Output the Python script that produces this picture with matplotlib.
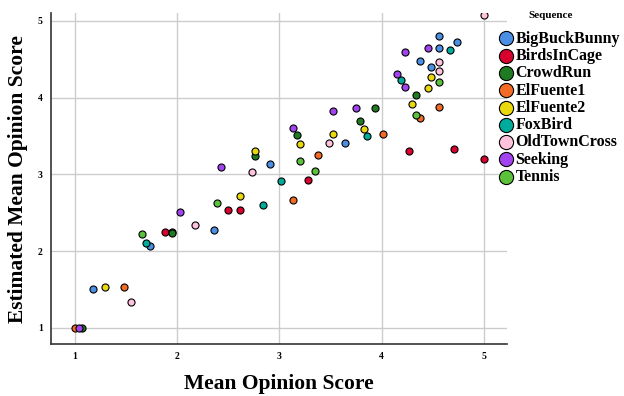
import matplotlib
matplotlib.use("Agg")
import matplotlib.pyplot as plt

plt.rcParams['font.family'] = ['Liberation Serif', 'DejaVu Serif']

sequences = ["BigBuckBunny", "BirdsInCage", "CrowdRun", "ElFuente1", "ElFuente2",
             "FoxBird", "OldTownCross", "Seeking", "Tennis"]
colors = ["#4a8fe3", "#d8002c", "#1f7a21", "#f26a23", "#e8d80c",
          "#00ab9b", "#ffc2dc", "#a343ef", "#5bc13a"]

# mean opinion score (x) and estimated score (y) per sequence
mos = {
    "BigBuckBunny": [4.56, 4.74, 4.56, 4.38, 4.48, 3.64, 2.91, 2.36, 1.74, 1.18],
    "BirdsInCage": [5.0, 4.71, 4.27, 3.28, 2.62, 2.50, 1.88, 1.95],
    "CrowdRun": [3.94, 3.79, 4.34, 3.17, 2.76, 1.95, 1.07],
    "ElFuente1": [4.56, 4.38, 4.01, 3.38, 3.13, 1.48, 1.00],
    "ElFuente2": [4.48, 4.45, 4.30, 3.83, 3.53, 3.20, 2.76, 2.62, 1.30],
    "FoxBird": [4.67, 4.19, 3.86, 3.02, 2.84, 1.70],
    "OldTownCross": [5.0, 4.56, 4.56, 3.49, 2.73, 2.18, 1.55],
    "Seeking": [4.45, 4.23, 4.15, 4.23, 3.75, 3.53, 3.13, 2.43, 2.03, 1.04],
    "Tennis": [4.56, 4.34, 3.20, 3.35, 2.39, 1.66],
}
est = {
    "BigBuckBunny": [4.80, 4.72, 4.65, 4.48, 4.40, 3.41, 3.14, 2.27, 2.06, 1.50],
    "BirdsInCage": [3.20, 3.33, 3.31, 2.93, 2.53, 2.54, 2.25, 2.25],
    "CrowdRun": [3.86, 3.70, 4.03, 3.51, 3.24, 2.23, 1.00],
    "ElFuente1": [3.88, 3.74, 3.53, 3.25, 2.67, 1.53, 1.00],
    "ElFuente2": [4.27, 4.13, 3.92, 3.59, 3.53, 3.40, 3.30, 2.72, 1.53],
    "FoxBird": [4.62, 4.23, 3.50, 2.91, 2.60, 2.10],
    "OldTownCross": [5.08, 4.46, 4.35, 3.41, 3.03, 2.34, 1.34],
    "Seeking": [4.65, 4.59, 4.31, 4.14, 3.86, 3.83, 3.61, 3.10, 2.51, 1.00],
    "Tennis": [4.20, 3.78, 3.17, 3.04, 2.63, 2.22],
}

fig = plt.figure(figsize=(6.24, 3.96), dpi=100)
ax = fig.add_axes([0.082, 0.131, 0.730, 0.836])

for name, col in zip(sequences, colors):
    ax.scatter(mos[name], est[name], s=26, c=col, edgecolors="black",
               linewidths=0.8, label=name, zorder=3)

ax.set_xlim(0.772, 5.222)
ax.set_ylim(0.787, 5.103)
ax.set_xticks([1, 2, 3, 4, 5])
ax.set_yticks([1, 2, 3, 4, 5])
ax.grid(True, color="#cccccc", linewidth=1.0)
ax.set_axisbelow(True)
for s in ["top", "right"]:
    ax.spines[s].set_visible(False)
for s in ["left", "bottom"]:
    ax.spines[s].set_color("#333333")
    ax.spines[s].set_linewidth(1.2)
ax.tick_params(length=0, pad=6, labelsize=7)
for lab in ax.get_xticklabels() + ax.get_yticklabels():
    lab.set_fontweight("bold")

ax.set_xlabel("Mean Opinion Score", fontsize=15.5, fontweight="bold", va="center")
ax.set_ylabel("Estimated Mean Opinion Score", fontsize=15.5, fontweight="bold", va="center")
ax.xaxis.set_label_coords(0.5, -0.121)
ax.yaxis.set_label_coords(-0.072, 0.5)

# legend title drawn on its own so the gap above the entries matches
fig.text(551 / 624, 1 - 15 / 396, "Sequence", ha="center", va="center",
         fontsize=8, fontweight="bold")
leg = fig.legend(*ax.get_legend_handles_labels(),
                 loc="upper left", bbox_to_anchor=(0.798, 0.9225),
                 frameon=False, markerscale=2.0, handlelength=1.0,
                 handletextpad=0.1, labelspacing=0.08, borderaxespad=0,
                 borderpad=0, prop={"weight": "bold", "size": 11.5})

fig.savefig("out.png", dpi=100)
